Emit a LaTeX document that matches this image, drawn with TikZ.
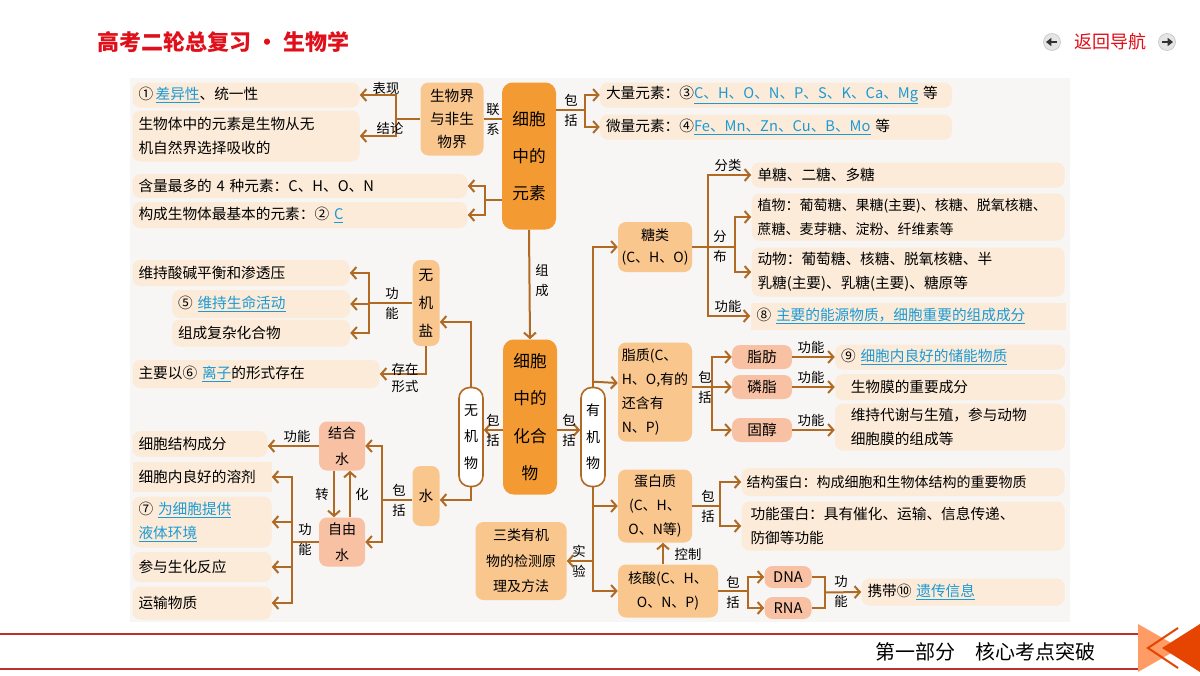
\documentclass[tikz,border=0pt]{standalone}
\usepackage{fontspec}
\setmainfont{Noto Sans CJK SC}
\usetikzlibrary{arrows.meta,positioning,calc}
\definecolor{notefill}{HTML}{FCEBD8}
\definecolor{midfill}{HTML}{F9C68E}
\definecolor{darkfill}{HTML}{F39A33}
\definecolor{salmonfill}{HTML}{F8C1A4}
\definecolor{linecol}{HTML}{B06A24}
\definecolor{linkblue}{HTML}{1B9AD6}
\definecolor{panelcol}{HTML}{F7F6F4}
\definecolor{headred}{HTML}{E0101A}
\definecolor{footred}{HTML}{B8322A}
\newdimen\px \px=0.75pt
\newcommand\fillin[1]{\textcolor{linkblue}{\underline{\hbox{#1}}}}

\begin{document}
\begin{tikzpicture}[x=0.75pt, y=-0.75pt]
% tikz settings
\fontsize{11}{18}\selectfont
\tikzstyle{note} = [rectangle, rounded corners=6pt, fill=notefill, align=left, inner xsep=6\px, inner ysep=0pt]
\tikzstyle{mid} = [rectangle, rounded corners=6pt, fill=midfill, align=center, inner sep=0pt]
\tikzstyle{dark} = [rectangle, rounded corners=8pt, fill=darkfill, align=center, inner sep=0pt, font=\fontsize{12.5}{28}\selectfont]
\tikzstyle{pink} = [rectangle, rounded corners=6pt, fill=salmonfill, align=center, inner sep=0pt]
\tikzstyle{hollow} = [rectangle, rounded corners=8pt, draw=linecol, line width=1.2pt, fill=white, align=center, inner sep=0pt, font=\fontsize{10.5}{20}\selectfont]
\tikzstyle{line} = [draw=linecol, line width=1.5pt, -{Straight Barb[length=4pt,width=9pt]}]
\tikzstyle{plain} = [draw=linecol, line width=1.5pt]
\tikzstyle{lab} = [inner sep=0pt, font=\fontsize{10}{12}\selectfont]
\tikzstyle{vlab} = [inner sep=0pt, align=center, font=\fontsize{10}{15}\selectfont]
\tikzstyle{small} = [font=\fontsize{10.5}{18}\selectfont]

% background
\useasboundingbox (0,0) rectangle (1200,675);
\fill[white] (0,0) rectangle (1200,675);
\fill[panelcol] (130,78) rectangle (1070,622);

% header and footer
\node[anchor=west, text=headred, font=\fontsize{16.5}{18}\selectfont\bfseries] (title) at (92,42) {高考二轮总复习 • 生物学};
\node[text=headred, font=\fontsize{13.5}{16}\selectfont] (nav) at (1110,42) {返回导航};
\node[circle, fill=gray!20, draw=gray!50, minimum size=17\px, inner sep=0pt] (navl) at (1052,42) {};
\node[circle, fill=gray!20, draw=gray!50, minimum size=17\px, inner sep=0pt] (navr) at (1167,42) {};
\draw[gray!40!black, line width=1.6pt, -{Triangle[length=4pt,width=6pt]}] ([xshift=5\px]navl.center) -- ([xshift=-6\px]navl.center);
\draw[gray!40!black, line width=1.6pt, -{Triangle[length=4pt,width=6pt]}] ([xshift=-5\px]navr.center) -- ([xshift=6\px]navr.center);
\draw[footred, line width=1.5pt] (0,634) -- (1140,634);
\draw[footred, line width=1.5pt] (0,669) -- (1140,669);
\node[font=\fontsize{15}{18}\selectfont] (part) at (985,652) {第一部分\quad 核心考点突破};
\fill[orange!70!red!60] (1138,624) -- (1138,672) -- (1180,648) -- cycle;
\fill[orange!60!red!90!black] (1200,624) -- (1200,672) -- (1162,648) -- cycle;
\draw[orange!60!red!90!black, line width=1.5pt] (1178,628) -- (1148,648) -- (1178,668);

% cell elements
\node[note, minimum width=227\px, minimum height=25\px, text width=215\px] (t1) at (246,95) {①\,\fillin{差异性}、统一性};
\node[note, minimum width=227\px, minimum height=51\px, text width=215\px] (t2) at (246,136) {生物体中的元素是生物从无\\机自然界选择吸收的};
\node[note, minimum width=335\px, minimum height=24\px, text width=323\px] (t3) at (300,186) {含量最多的 4 种元素：C、H、O、N};
\node[note, minimum width=335\px, minimum height=26\px, text width=323\px] (t4) at (300,215) {构成生物体最基本的元素：② \fillin{C}};
\node[mid, minimum width=63\px, minimum height=73\px, font=\fontsize{11}{17}\selectfont] (jie) at (452,119) {生物界\\与非生\\物界};
\node[dark, minimum width=54\px, minimum height=147\px] (yuansu) at (529,156) {细胞\\中的\\元素};
\node[note, minimum width=352\px, minimum height=25\px, text width=340\px] (daliang) at (776,95) {大量元素：③\fillin{C、H、O、N、P、S、K、Ca、Mg} 等};
\node[note, minimum width=352\px, minimum height=25\px, text width=340\px] (weiliang) at (776,127) {微量元素：④\fillin{Fe、Mn、Zn、Cu、B、Mo} 等};

% compounds
\node[dark, minimum width=54\px, minimum height=155\px] (hhw) at (530,417) {细胞\\中的\\化合\\物};
\node[hollow, minimum width=24\px, minimum height=99\px] (yjw) at (593,437) {有\\机\\物};
\node[hollow, minimum width=24\px, minimum height=99\px] (wjw) at (471,437) {无\\机\\物};

% organic
\node[mid, minimum width=74\px, minimum height=50\px, font=\fontsize{10.5}{17}\selectfont] (tang) at (655,247) {糖类\\(C、H、O)};
\node[note, minimum width=313\px, minimum height=25\px, text width=301\px] (dan) at (908,175) {单糖、二糖、多糖};
\node[note, small, minimum width=313\px, minimum height=47\px, text width=301\px] (zw) at (908,217) {植物：葡萄糖、果糖(主要)、核糖、脱氧核糖、\\蔗糖、麦芽糖、淀粉、纤维素等};
\node[note, minimum width=313\px, minimum height=49\px, text width=301\px] (dw) at (908,272) {动物：葡萄糖、核糖、脱氧核糖、半\\乳糖(主要)、乳糖(主要)、糖原等};
\node[note, rounded corners=0pt, minimum width=315\px, minimum height=27\px, text width=303\px] (gn8) at (908,316) {⑧ \fillin{主要的能源物质，细胞重要的组成成分}};
\node[mid, minimum width=74\px, minimum height=99\px, align=left, font=\fontsize{10.5}{18}\selectfont] (zhi) at (655,392) {脂质(C、\\H、O,有的\\还含有\\N、P)};
\node[pink, minimum width=60\px, minimum height=24\px] (zf) at (762,357) {脂肪};
\node[pink, minimum width=60\px, minimum height=24\px] (lz) at (762,387) {磷脂};
\node[pink, minimum width=60\px, minimum height=24\px] (gc) at (762,430) {固醇};
\node[note, minimum width=230\px, minimum height=25\px, text width=218\px] (cn) at (950,357) {⑨ \fillin{细胞内良好的储能物质}};
\node[note, minimum width=230\px, minimum height=26\px, text width=218\px] (swm) at (950,387) {\ \ 生物膜的重要成分};
\node[note, minimum width=230\px, minimum height=47\px, text width=218\px] (dx) at (950,427) {\ \ 维持代谢与生殖，参与动物\\\ \ 细胞膜的组成等};
\node[mid, minimum width=74\px, minimum height=73\px, font=\fontsize{10.5}{18}\selectfont] (dbz) at (655,506) {蛋白质\\(C、H、\\O、N等)};
\node[note, small, minimum width=323\px, minimum height=28\px, text width=313\px, inner xsep=3\px] (jgdb) at (903,482) {结构蛋白：构成细胞和生物体结构的重要物质};
\node[note, minimum width=323\px, minimum height=49\px, text width=305\px] (gndb) at (903,526) {功能蛋白：具有催化、运输、信息传递、\\防御等功能};
\node[mid, minimum width=100\px, minimum height=53\px, font=\fontsize{10.5}{18}\selectfont] (hs) at (668,591) {核酸(C、H、\\O、N、P)};
\node[pink, minimum width=47\px, minimum height=22\px] (dna) at (788,577) {DNA};
\node[pink, minimum width=47\px, minimum height=22\px] (rna) at (788,608) {RNA};
\node[note, minimum width=203\px, minimum height=27\px, text width=191\px] (xd) at (963,592) {携带⑩ \fillin{遗传信息}};
\node[mid, minimum width=91\px, minimum height=78\px, font=\fontsize{10.5}{19}\selectfont] (sanlei) at (521,561) {三类有机\\物的检测原\\理及方法};

% inorganic
\node[mid, minimum width=27\px, minimum height=86\px, font=\fontsize{11}{21}\selectfont] (wjy) at (426,303) {无\\机\\盐};
\node[mid, minimum width=27\px, minimum height=60\px] (shui) at (426,496) {水};
\node[note, minimum width=217\px, minimum height=26\px, text width=205\px] (sj) at (241,273) {维持酸碱平衡和渗透压};
\node[note, minimum width=178\px, minimum height=28\px, text width=166\px] (wc5) at (261,304) {⑤ \fillin{维持生命活动}};
\node[note, minimum width=178\px, minimum height=27\px, text width=166\px] (fz) at (261,333) {组成复杂化合物};
\node[note, minimum width=247\px, minimum height=28\px, text width=235\px] (lzi) at (256,374) {主要以⑥ \fillin{离子}的形式存在};
\node[pink, minimum width=46\px, minimum height=49\px, font=\fontsize{10.5}{20}\selectfont] (jhs) at (342,446) {结合\\水};
\node[pink, minimum width=46\px, minimum height=49\px, font=\fontsize{10.5}{20}\selectfont] (zys) at (342,542) {自由\\水};
\node[note, minimum width=135\px, minimum height=26\px, text width=123\px] (jg) at (200,444) {细胞结构成分};
\node[note, rounded corners=0pt, minimum width=139\px, minimum height=30\px, text width=127\px] (rj) at (202,477) {细胞内良好的溶剂};
\node[note, minimum width=139\px, minimum height=51\px, text width=127\px] (yt) at (202,522) {⑦ \fillin{为细胞提供}\\\fillin{液体环境}};
\node[note, minimum width=139\px, minimum height=30\px, text width=127\px] (fy) at (202,567) {参与生化反应};
\node[note, minimum width=139\px, minimum height=33\px, text width=127\px] (ys) at (202,603) {运输物质};

% connectors: elements
\draw[line] (jie.west) -- ++(-24,0) |- (t1.east);
\draw[line] (jie.west) -- ++(-24,0) |- (t2.east);
\node[lab] (lbbx) at (386,88) {表现};
\node[lab] (lbjl) at (390,128) {结论};
\draw[plain] (jie.east) -- (jie.east -| yuansu.west);
\node[vlab] (lblx) at (493,119) {联\\系};
\draw[line] ([yshift=46\px]yuansu.east) -- ++(29,0) |- (daliang.west);
\draw[line] ([yshift=46\px]yuansu.east) -- ++(29,0) |- (weiliang.west);
\node[vlab] (lbbk1) at (571,110) {包\\括};
\draw[line] ([yshift=-44\px]yuansu.west) -- ++(-17,0) |- (t3.east);
\draw[line] ([yshift=-44\px]yuansu.west) -- ++(-17,0) |- (t4.east);
\draw[line] (yuansu.south) -- (hhw.north);
\node[vlab] (lbzc) at (542,280) {组\\成};

% connectors: compounds
\draw[line] ([yshift=-13\px]hhw.east) -- ([yshift=7\px]yjw.west);
\node[vlab] (lbbk2) at (569,430) {包\\括};
\draw[line] ([yshift=-13\px]hhw.west) -- ([yshift=7\px]wjw.east);
\node[vlab] (lbbk3) at (493,430) {包\\括};

% connectors: organic
\draw[line] (yjw.north) |- (tang.west);
\draw[line] ([yshift=5\px]yjw.north) -- ([yshift=9\px]zhi.west);
\draw[line] (yjw.south) |- (dbz.west);
\draw[line] (yjw.south) |- (hs.west);
\draw[line] (yjw.south) |- (sanlei.east);
\node[vlab] (lbsy) at (579,561) {实\\验};
\draw[line] (tang.east) -- ++(16,0) |- (dan.west);
\draw[line] (tang.east) -- ++(16,0) |- (gn8.west);
\draw[line] (tang.east) -- ++(43,0) |- (zw.west);
\draw[line] (tang.east) -- ++(43,0) |- (dw.west);
\node[lab] (lbfl) at (728,165) {分类};
\node[vlab] (lbfb) at (720,247) {分\\布};
\node[lab] (lbgn1) at (728,306) {功能};
\draw[line] ([yshift=5\px]zhi.east) -- ++(20,0) |- (zf.west);
\draw[line] ([yshift=5\px]zhi.east) -- ++(20,0) |- (lz.west);
\draw[line] ([yshift=5\px]zhi.east) -- ++(20,0) |- (gc.west);
\node[vlab] (lbbk4) at (705,387) {包\\括};
\draw[line] (zf.east) -- (cn.west);
\draw[line] (lz.east) -- (swm.west);
\draw[line] (gc.east) -- (gc.east -| dx.west);
\node[lab] (lbgn2) at (811,347) {功能};
\node[lab] (lbgn3) at (811,377) {功能};
\node[lab] (lbgn4) at (811,420) {功能};
\draw[line] (dbz.east) -- ++(28,0) |- (jgdb.west);
\draw[line] (dbz.east) -- ++(28,0) |- (gndb.west);
\node[vlab] (lbbk5) at (708,506) {包\\括};
\draw[line] ([xshift=-5\px]hs.north) -- ([xshift=8\px]dbz.south);
\node[lab] (lbkz) at (688,554) {控制};
\draw[line] (hs.east) -- ++(30,0) |- (dna.west);
\draw[line] (hs.east) -- ++(30,0) |- (rna.west);
\node[vlab] (lbbk6) at (733,592) {包\\括};
\draw[plain] (dna.east) -- ++(13,0) |- (rna.east);
\draw[line] ($(dna.east)!0.5!(rna.east)+(13,0)$) -- (xd.west);
\node[vlab] (lbgn5) at (841,592) {功\\能};

% connectors: inorganic
\draw[line] (wjw.north) |- ([yshift=-19\px]wjy.east);
\draw[line] (wjw.south) |- ([yshift=-4\px]shui.east);
\draw[line] (wjy.west) -- ++(-43,0) |- (sj.east);
\draw[line] (wjy.west) -- ++(-43,0) |- (wc5.east);
\draw[line] (wjy.west) -- ++(-43,0) |- (fz.east);
\node[vlab] (lbgn6) at (392,304) {功\\能};
\draw[line] (wjy.south) |- (lzi.east);
\node[vlab, font=\fontsize{10}{13}\selectfont] (lbcz) at (405,378) {存在\\形式};
\draw[line] ([yshift=-4\px]shui.west) -- ++(-30,0) |- (jhs.east);
\draw[line] ([yshift=-4\px]shui.west) -- ++(-30,0) |- (zys.east);
\node[vlab] (lbbk7) at (399,500) {包\\括};
\draw[line] ([xshift=-8\px]jhs.south) -- ([xshift=-8\px]zys.north);
\draw[line] ([xshift=8\px]zys.north) -- ([xshift=8\px]jhs.south);
\node[lab] (lbzh) at (322,494) {转};
\node[lab] (lbhua) at (362,494) {化};
\draw[line] (jhs.west) -- (jhs.west -| jg.east);
\node[lab] (lbgn7) at (297,436) {功能};
\draw[line] (zys.west) -- ++(-27,0) |- (rj.east);
\draw[line] (zys.west) -- ++(-27,0) |- (yt.east);
\draw[line] (zys.west) -- ++(-27,0) |- (fy.east);
\draw[line] (zys.west) -- ++(-27,0) |- (ys.east);
\node[vlab] (lbgn8) at (305,540) {功\\能};
\end{tikzpicture}
\end{document}
